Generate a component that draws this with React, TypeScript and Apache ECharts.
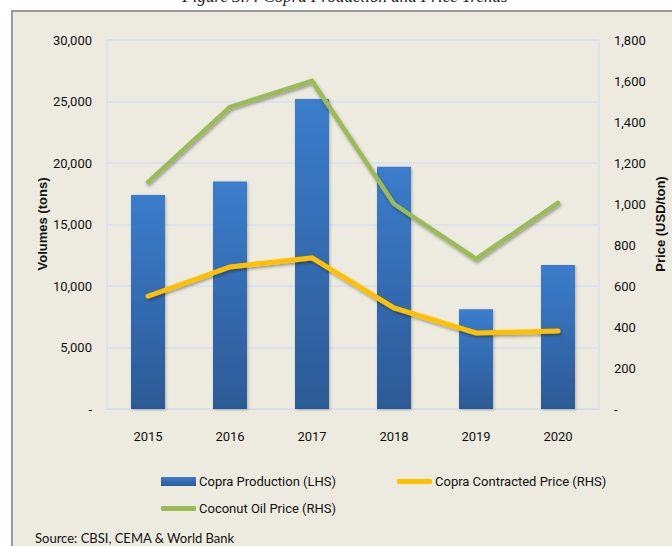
import React, { useEffect, useRef } from "react";
import * as echarts from "echarts";

const years = ["2015", "2016", "2017", "2018", "2019", "2020"];
const copraProduction = [17400, 18500, 25200, 19700, 8100, 11700];
const copraContractedPrice = [550, 693, 737, 493, 371, 380];
const coconutOilPrice = [1107, 1473, 1600, 1000, 732, 1005];

const FONT = "'Liberation Sans Narrow', 'Arial Narrow', Roboto, 'Liberation Sans', sans-serif";
const BG = "#EDEBE0";
const NAME_FONT = "bold 13px 'Liberation Sans', Arial, sans-serif";

const thousands = (v: number) => (v === 0 ? "-" : v.toLocaleString("en-US"));

export default function App() {
  const ref = useRef<HTMLDivElement>(null);
  useEffect(() => {
    if (!ref.current) return;
    const chart = echarts.init(ref.current, null, { renderer: "svg" });
    const lineShadow = {
      shadowColor: "rgba(0,0,0,0.35)",
      shadowBlur: 3,
      shadowOffsetX: 1,
      shadowOffsetY: 2,
    };
    chart.setOption({
      animation: false,
      backgroundColor: "#ffffff",
      graphic: [
        {
          type: "rect",
          shape: { x: 12, y: 11, width: 700, height: 600 },
          style: { fill: BG, stroke: "#9A9A9A", lineWidth: 2 },
          z: -10,
        },
        {
          type: "text",
          x: 345,
          y: -12,
          style: {
            text: "Figure 3.7: Copra Production and Price Trends",
            font: "italic 17px 'Liberation Serif', serif",
            fill: "#222",
            align: "center",
            verticalAlign: "top",
          },
        },
        {
          type: "text",
          x: 42,
          y: 224,
          rotation: Math.PI / 2,
          style: {
            text: "Volumes (tons)",
            font: NAME_FONT,
            fill: "#111",
            align: "center",
            verticalAlign: "middle",
          },
        },
        {
          type: "text",
          x: 660,
          y: 224,
          rotation: Math.PI / 2,
          style: {
            text: "Price (USD/ton)",
            font: NAME_FONT,
            fill: "#111",
            align: "center",
            verticalAlign: "middle",
          },
        },
        {
          type: "text",
          x: 35,
          y: 538,
          style: {
            text: "Source: CBSI, CEMA & World Bank",
            font: "13px Lato, 'Open Sans', sans-serif",
            fill: "#111",
            align: "left",
            verticalAlign: "middle",
          },
        },
      ],
      grid: {
        left: 107,
        right: 73,
        top: 40,
        bottom: 137,
        show: true,
        borderColor: "#D3DCE8",
        borderWidth: 1,
        backgroundColor: "transparent",
      },
      legend: [
        {
          left: 156,
          top: 470,
          itemWidth: 35,
          itemHeight: 9,
          itemGap: 10,
          textStyle: { fontFamily: FONT, fontSize: 13, color: "#111", padding: [0, 0, 0, -2] },
          data: [{ name: "Copra Production (LHS)", icon: "rect" }],
        },
        {
          left: 392,
          top: 470,
          itemWidth: 35,
          itemHeight: 5,
          textStyle: { fontFamily: FONT, fontSize: 13, color: "#111", padding: [0, 0, 0, -2] },
          data: [{ name: "Copra Contracted Price (RHS)", icon: "roundRect" }],
        },
        {
          left: 156,
          top: 497,
          itemWidth: 35,
          itemHeight: 5,
          textStyle: { fontFamily: FONT, fontSize: 13, color: "#111", padding: [0, 0, 0, -2] },
          data: [{ name: "Coconut Oil Price (RHS)", icon: "roundRect" }],
        },
      ],
      xAxis: {
        type: "category",
        data: years,
        axisLine: { show: true, lineStyle: { color: "#D3DCE8" } },
        axisTick: { show: false },
        axisLabel: { fontFamily: FONT, fontSize: 13, color: "#111", margin: 21 },
      },
      yAxis: [
        {
          type: "value",
          min: 0,
          max: 30000,
          interval: 5000,
          axisLine: { show: false },
          axisTick: { show: false },
          splitLine: { lineStyle: { color: "#D6E1F0", width: 1.5 } },
          axisLabel: { fontFamily: FONT, fontSize: 13, color: "#111", margin: 15, formatter: thousands },
        },
        {
          type: "value",
          min: 0,
          max: 1800,
          interval: 200,
          position: "right",
          axisLine: { show: false },
          axisTick: { show: false },
          splitLine: { show: false },
          axisLabel: { fontFamily: FONT, fontSize: 13, color: "#111", margin: 15, formatter: thousands },
        },
      ],
      series: [
        {
          name: "Copra Production (LHS)",
          type: "bar",
          yAxisIndex: 0,
          barWidth: 34,
          data: copraProduction,
          itemStyle: {
            color: new echarts.graphic.LinearGradient(0, 0, 0, 1, [
              { offset: 0, color: "#3B7DCC" },
              { offset: 1, color: "#2C5A96" },
            ]),
            shadowColor: "rgba(0,0,0,0.25)",
            shadowBlur: 3,
            shadowOffsetX: 1,
            shadowOffsetY: 1,
          },
          z: 2,
        },
        {
          name: "Copra Contracted Price (RHS)",
          type: "line",
          yAxisIndex: 1,
          data: copraContractedPrice,
          showSymbol: false,
          symbol: "none",
          itemStyle: { color: "#FFC000" },
          lineStyle: { color: "#FFC000", width: 5, cap: "round", join: "miter", ...lineShadow },
          z: 3,
        },
        {
          name: "Coconut Oil Price (RHS)",
          type: "line",
          yAxisIndex: 1,
          data: coconutOilPrice,
          showSymbol: false,
          symbol: "none",
          itemStyle: { color: "#9BBB59" },
          lineStyle: { color: "#9BBB59", width: 4.5, cap: "round", join: "miter", ...lineShadow },
          z: 3,
        },
      ],
    });
    return () => chart.dispose();
  }, []);
  return (
    <div
      ref={ref}
      style={{ position: "fixed", left: 0, top: 0, width: 672, height: 546 }}
    />
  );
}
